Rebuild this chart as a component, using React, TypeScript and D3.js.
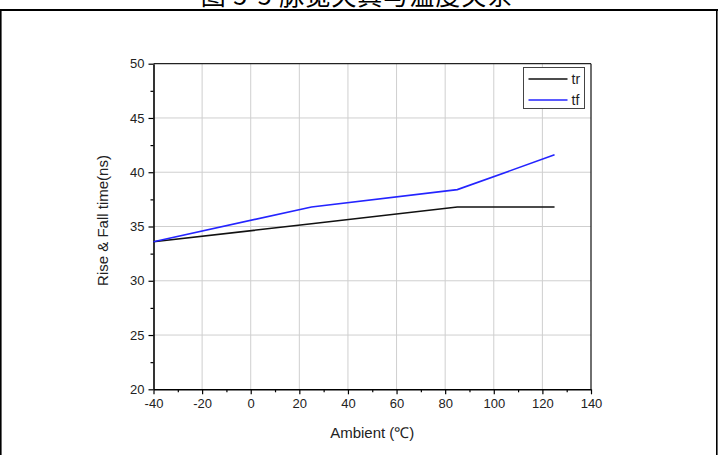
// App.tsx - rise & fall time vs ambient temperature (D3 line chart)
import React, { useEffect, useRef } from 'react';
import * as d3 from 'd3';

// --- Data ---
const ambient = [-40, 25, 85, 125];
const trValues = [33.6, 35.25, 36.8, 36.8];
const tfValues = [33.6, 36.8, 38.4, 41.6];
const xTicks = [-40, -20, 0, 20, 40, 60, 80, 100, 120, 140];
const yTicks = [20, 25, 30, 35, 40, 45, 50];
const seriesNames = ['tr', 'tf'];
const seriesColors = ['#111111', '#2424ff'];
const titleText = '图 5-5 脉宽失真与温度关系';

const W = 718, H = 455;
const plot = { left: 153.5, right: 591, top: 63.7, bottom: 389.3 };
const FONT = 'Arial, "Liberation Sans", Helvetica, sans-serif';

function App() {
  const svgRef = useRef<SVGSVGElement>(null);

  useEffect(() => {
    if (!svgRef.current) return;
    const svg = d3.select(svgRef.current);
    svg.selectAll('*').remove();

    const x = d3.scaleLinear().domain([-40, 140]).range([plot.left, plot.right]);
    const y = d3.scaleLinear().domain([20, 50]).range([plot.bottom, plot.top]);

    // page frame + caption (cut off at the top, as in the source page)
    svg.append('text').attr('x', 357).attr('y', 5).attr('text-anchor', 'middle')
      .attr('font-family', '"Noto Sans CJK SC", sans-serif').attr('font-size', 25).attr('fill', '#000')
      .attr('letter-spacing', 1)
      .text(titleText);
    svg.append('line').attr('x1', 0).attr('x2', W).attr('y1', 10).attr('y2', 10).attr('stroke', '#000').attr('stroke-width', 2.2);
    svg.append('line').attr('x1', 0.8).attr('x2', 0.8).attr('y1', 10).attr('y2', H).attr('stroke', '#000').attr('stroke-width', 1.6);
    svg.append('line').attr('x1', 716.8).attr('x2', 716.8).attr('y1', 10).attr('y2', H).attr('stroke', '#000').attr('stroke-width', 1.6);

    // grid
    const grid = svg.append('g');
    grid.selectAll('line.gx').data(xTicks.slice(1, -1)).join('line').attr('class', 'gx')
      .attr('x1', d => x(d)).attr('x2', d => x(d)).attr('y1', plot.top).attr('y2', plot.bottom)
      .attr('stroke', '#cfcfcf').attr('stroke-width', 1);
    grid.selectAll('line.gy').data(yTicks.slice(1, -1)).join('line').attr('class', 'gy')
      .attr('x1', plot.left).attr('x2', plot.right).attr('y1', d => y(d)).attr('y2', d => y(d))
      .attr('stroke', '#cfcfcf').attr('stroke-width', 1);

    // minor ticks
    const xMinor = d3.range(-30, 140, 20);
    const yMinor = d3.range(22.5, 50, 5);
    svg.append('g').attr('transform', `translate(0,${plot.bottom})`)
      .call(d3.axisBottom(x).tickValues(xMinor).tickSize(3).tickFormat(() => ''))
      .call(g => g.select('.domain').remove())
      .selectAll('line').attr('stroke', '#000').attr('stroke-width', 1.2);
    svg.append('g').attr('transform', `translate(${plot.left},0)`)
      .call(d3.axisLeft(y).tickValues(yMinor).tickSize(3).tickFormat(() => ''))
      .call(g => g.select('.domain').remove())
      .selectAll('line').attr('stroke', '#000').attr('stroke-width', 1.2);

    // frame top/right
    svg.append('line').attr('x1', plot.left).attr('x2', plot.right).attr('y1', plot.top).attr('y2', plot.top).attr('stroke', '#222').attr('stroke-width', 1.3);
    svg.append('line').attr('x1', plot.right).attr('x2', plot.right).attr('y1', plot.top).attr('y2', plot.bottom).attr('stroke', '#222').attr('stroke-width', 1.3);

    // main axes (plain hyphen for negatives, like the original)
    const fmt = (d: d3.NumberValue) => String(d);
    const xAxis = svg.append('g').attr('transform', `translate(0,${plot.bottom})`)
      .call(d3.axisBottom(x).tickValues(xTicks).tickSize(5).tickSizeOuter(0).tickPadding(4).tickFormat(fmt));
    const yAxis = svg.append('g').attr('transform', `translate(${plot.left},0)`)
      .call(d3.axisLeft(y).tickValues(yTicks).tickSize(5).tickSizeOuter(0).tickPadding(4).tickFormat(fmt));
    [xAxis, yAxis].forEach(a => {
      a.select('.domain').attr('stroke', '#000').attr('stroke-width', 1.6);
      a.selectAll('.tick line').attr('stroke', '#000').attr('stroke-width', 1.2);
      a.selectAll('.tick text').attr('font-family', FONT).attr('font-size', 13).attr('fill', '#222');
    });

    // series
    const line = d3.line<[number, number]>().x(d => x(d[0])).y(d => y(d[1]));
    const series = [trValues, tfValues];
    series.forEach((vals, i) => {
      svg.append('path').datum(ambient.map((a, j) => [a, vals[j]] as [number, number]))
        .attr('d', line).attr('fill', 'none').attr('stroke', seriesColors[i]).attr('stroke-width', 1.6);
    });

    // legend
    const lg = svg.append('g').attr('transform', 'translate(523.5,67.5)');
    lg.append('rect').attr('width', 61).attr('height', 41).attr('fill', '#fff').attr('stroke', '#444').attr('stroke-width', 1);
    seriesNames.forEach((name, i) => {
      const yy = 11.5 + i * 21;
      lg.append('line').attr('x1', 5).attr('x2', 44).attr('y1', yy).attr('y2', yy).attr('stroke', seriesColors[i]).attr('stroke-width', 1.6);
      lg.append('text').attr('x', 48).attr('y', yy + 5).attr('font-family', FONT).attr('font-size', 14).attr('fill', '#222').text(name);
    });

    // axis titles
    svg.append('text').attr('x', (plot.left + plot.right) / 2).attr('y', 438).attr('text-anchor', 'middle')
      .attr('font-family', FONT).attr('font-size', 15).attr('fill', '#222').text('Ambient (℃)');
    svg.append('text').attr('transform', `translate(108,${220.5}) rotate(-90)`).attr('text-anchor', 'middle')
      .attr('font-family', FONT).attr('font-size', 15).attr('fill', '#222').text('Rise & Fall time(ns)');
  }, []);

  return (
    <svg ref={svgRef} width={W} height={H} style={{ position: 'absolute', left: 0, top: 0, background: '#fff' }} />
  );
}

export default App;
